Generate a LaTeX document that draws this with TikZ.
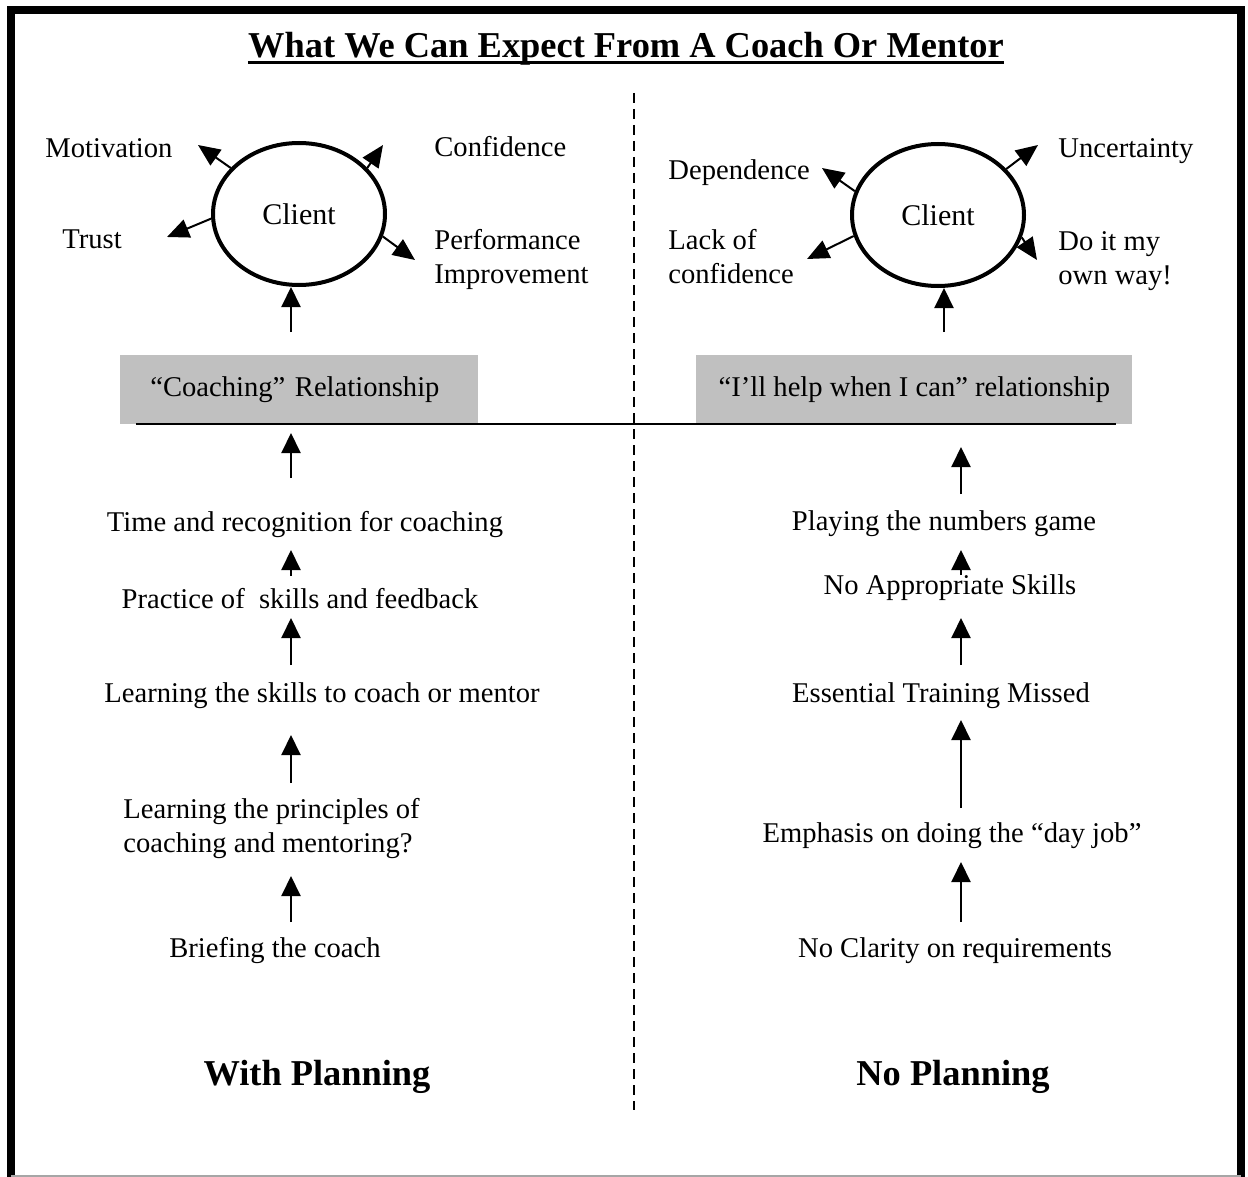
\documentclass[tikz,border=0pt]{standalone}
\usepackage{fontspec}
\setmainfont{Liberation Serif}
\usetikzlibrary{arrows.meta,shapes.geometric}
\definecolor{boxgray}{HTML}{C0C0C0}
\begin{document}
\begin{tikzpicture}[
    x=0.5pt,y=-0.5pt,
    txt/.style={font=\fontsize{14.3}{17}\selectfont,inner sep=0},
    head/.style={font=\fontsize{18.2}{21}\selectfont\bfseries,inner sep=0},
    client/.style={ellipse,draw,line width=2pt,minimum width=86pt,minimum height=71pt,inner sep=0,font=\fontsize{15}{18}\selectfont},
    rel/.style={fill=boxgray,minimum height=34.5pt,anchor=north west,font=\fontsize{14.3}{17}\selectfont},
    outarr/.style={-{Triangle[length=11pt,width=9.5pt]},line width=1pt},
    uparr/.style={-{Triangle[length=10pt,width=9.5pt]},line width=1pt}
    ]
    \useasboundingbox (0,0) rectangle (1248,1177);

    % frame
    \coordinate (fbl) at (11,1177);
    \coordinate (ftl) at (11,10);
    \coordinate (ftr) at (1241,10);
    \coordinate (fbr) at (1241,1177);
    \draw[line width=4pt] (fbl) -- (ftl) -- (ftr) -- (fbr);
    \draw[gray!70,line width=1pt] (11,1176) -- (1241,1176);

    % title
    \node[head,anchor=base] (title) at (626,58) {What We Can Expect From A Coach Or Mentor};
    \draw[line width=1.5pt] ([yshift=-2.5pt]title.base west) -- ([yshift=-2.5pt]title.base east);

    % divider and base line
    \coordinate (divtop) at (634,93);
    \coordinate (divbot) at (634,1110);
    \draw[line width=0.75pt,dash pattern=on 5pt off 3pt] (divtop) -- (divbot);
    \coordinate (lineL) at (136,424);
    \coordinate (lineR) at (1116,424);

    % relationship boxes
    \node[rel,text width=149pt,align=left,inner xsep=15pt] (coachrel) at (120,355) {“Coaching” Relationship};
    \node[rel,minimum width=218pt] (helprel) at (696,355) {“I’ll help when I can” relationship};
    \draw[line width=1pt] (lineL) -- (lineR);

    % clients
    \node[client] (cl) at (299,214) {Client};
    \node[client] (cr) at (938,215) {Client};

    % outcomes, with planning
    \node[txt,anchor=base west] (motiv) at (45,157) {Motivation};
    \node[txt,anchor=base west] (conf) at (434,156) {Confidence};
    \node[txt,anchor=base west] (trust) at (62,249) {Trust};
    \node[txt,anchor=base west,align=left] (perf) at (434,283) {Performance\\Improvement};

    % outcomes, no planning
    \node[txt,anchor=base west] (dep) at (668,179) {Dependence};
    \node[txt,anchor=base west] (unc) at (1058,157) {Uncertainty};
    \node[txt,anchor=base west,align=left] (lack) at (668,283) {Lack of\\confidence};
    \node[txt,anchor=base west,align=left] (own) at (1058,284) {Do it my\\own way!};

    % outcome arrows
    \coordinate (tmot) at (198,145);
    \coordinate (tconf) at (383,145);
    \coordinate (ttrust) at (167,237);
    \coordinate (tperf) at (415,260);
    \coordinate (tdep) at (822,168);
    \coordinate (tlack) at (807,259);
    \coordinate (tunc) at (1038,145);
    \coordinate (town) at (1037,260);
    \draw[outarr] (cl.146) -- (tmot);
    \draw[outarr] (cl.34) -- (tconf);
    \draw[outarr] (cl.183) -- (ttrust);
    \draw[outarr] (cl.-15) -- (tperf);
    \draw[outarr] (cr.164) -- (tdep);
    \draw[outarr] (cr.194) -- (tlack);
    \draw[outarr] (cr.34) -- (tunc);
    \draw[outarr] (cr.-15) -- (town);

    % arrows into clients
    \coordinate (lup) at (291,332);
    \coordinate (rup) at (944,332);
    \draw[uparr] (lup) -- (lup |- cl.south);
    \draw[uparr] (rup) -- (rup |- cr.south);

    % with planning chain
    \node[txt,anchor=base] (time) at (305,531) {Time and recognition for coaching};
    \node[txt,anchor=base] (practice) at (300,608) {Practice of\ \ skills and feedback};
    \node[txt,anchor=base] (skills) at (322,702) {Learning the skills to coach or mentor};
    \node[txt,anchor=base west,align=left] (princ) at (123,852) {Learning the principles of\\coaching and mentoring?};
    \node[txt,anchor=base] (brief) at (275,957) {Briefing the coach};

    % no planning chain
    \node[txt,anchor=base] (numbers) at (944,530) {Playing the numbers game};
    \node[txt,anchor=base] (approp) at (950,594) {No Appropriate Skills};
    \node[txt,anchor=base] (missed) at (941,702) {Essential Training Missed};
    \node[txt,anchor=base] (dayjob) at (952,842) {Emphasis on doing the “day job”};
    \node[txt,anchor=base] (clarity) at (955,957) {No Clarity on requirements};

    % chain arrows, left
    \coordinate (la1) at (291,478); \coordinate (lb1) at (291,433);
    \coordinate (la2) at (291,576); \coordinate (lb2) at (291,550);
    \coordinate (la3) at (291,665); \coordinate (lb3) at (291,618);
    \coordinate (la4) at (291,783); \coordinate (lb4) at (291,735);
    \coordinate (la5) at (291,922); \coordinate (lb5) at (291,876);
    \draw[uparr] (la1) -- (lb1);
    \draw[uparr] (la2) -- (lb2);
    \draw[uparr] (la3) -- (lb3);
    \draw[uparr] (la4) -- (lb4);
    \draw[uparr] (la5) -- (lb5);

    % chain arrows, right
    \coordinate (ra1) at (961,494); \coordinate (rb1) at (961,447);
    \coordinate (ra2) at (961,575); \coordinate (rb2) at (961,550);
    \coordinate (ra3) at (961,665); \coordinate (rb3) at (961,618);
    \coordinate (ra4) at (961,808); \coordinate (rb4) at (961,720);
    \coordinate (ra5) at (961,922); \coordinate (rb5) at (961,862);
    \draw[uparr] (ra1) -- (rb1);
    \draw[uparr] (ra2) -- (rb2);
    \draw[uparr] (ra3) -- (rb3);
    \draw[uparr] (ra4) -- (rb4);
    \draw[uparr] (ra5) -- (rb5);

    % column titles
    \node[head,anchor=base] (withplan) at (317,1085) {With Planning};
    \node[head,anchor=base] (noplan) at (953,1085) {No Planning};
  \end{tikzpicture}
\end{document}
